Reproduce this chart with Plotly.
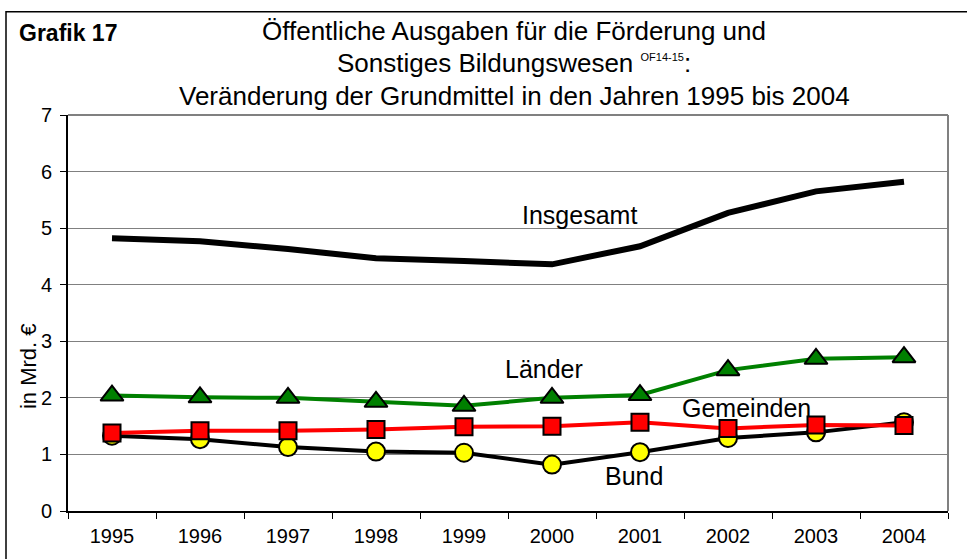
import plotly.graph_objects as go

years = ["1995", "1996", "1997", "1998", "1999", "2000", "2001", "2002", "2003", "2004"]
insgesamt = [4.82, 4.77, 4.63, 4.47, 4.42, 4.36, 4.68, 5.27, 5.65, 5.82]
laender = [2.04, 2.01, 2.00, 1.93, 1.86, 2.00, 2.05, 2.49, 2.69, 2.72]
gemeinden = [1.38, 1.42, 1.42, 1.44, 1.49, 1.50, 1.57, 1.46, 1.52, 1.51]
bund = [1.33, 1.27, 1.13, 1.05, 1.03, 0.82, 1.04, 1.29, 1.39, 1.57]
y_ticks = [0, 1, 2, 3, 4, 5, 6, 7]

FONT = "Liberation Sans, Arial, sans-serif"

fig = go.Figure()
fig.add_trace(go.Scatter(x=years, y=insgesamt, mode="lines", name="Insgesamt",
                         line=dict(color="black", width=6)))
fig.add_trace(go.Scatter(x=years, y=bund, mode="lines+markers", name="Bund",
                         line=dict(color="black", width=4),
                         marker=dict(symbol="circle", size=18, color="#ffff00",
                                     line=dict(color="black", width=2))))
fig.add_trace(go.Scatter(x=years, y=laender, mode="lines+markers", name="Länder",
                         line=dict(color="#008000", width=4),
                         marker=dict(symbol="triangle-up", size=20, color="#008000",
                                     line=dict(color="black", width=2))))
fig.add_trace(go.Scatter(x=years, y=gemeinden, mode="lines+markers", name="Gemeinden",
                         line=dict(color="#ff0000", width=4),
                         marker=dict(symbol="square", size=17, color="#ff0000",
                                     line=dict(color="black", width=2))))

L, R, T, B = 68, 19, 115, 45
W, H = 967, 559
pw, ph = W - L - R, H - T - B

def px_x(x):
    return (x - L) / pw

def px_y(y):
    return (H - B - y) / ph

fig.update_layout(
    width=W, height=H,
    margin=dict(l=L, r=R, t=T, b=B),
    paper_bgcolor="white", plot_bgcolor="white",
    showlegend=False,
    font=dict(family=FONT, color="black", size=16),
    xaxis=dict(type="category", range=[-0.5, 9.5], showgrid=False, ticks="outside",
               ticklen=6, tickson="boundaries", tickcolor="black", showline=True,
               linecolor="black", linewidth=2, mirror=False, ticklabelstandoff=6,
               tickfont=dict(size=20), zeroline=False),
    yaxis=dict(range=[0, 7], tickvals=y_ticks, showgrid=True, gridcolor="#808080",
               gridwidth=1, ticks="outside", ticklen=6, tickcolor="black",
               showline=True, linecolor="black", linewidth=2, ticklabelstandoff=4,
               tickfont=dict(size=20), zeroline=False),
)

# plot-area border on top and right (gray)
fig.add_shape(type="line", xref="paper", yref="paper", x0=0, x1=1, y0=1, y1=1,
              line=dict(color="#808080", width=2))
fig.add_shape(type="line", xref="paper", yref="paper", x0=1, x1=1, y0=0, y1=1,
              line=dict(color="#808080", width=2))
# outer frame (runs off the right and bottom edges)
fig.add_shape(type="rect", xref="paper", yref="paper",
              x0=px_x(6), x1=px_x(1000), y0=px_y(600), y1=px_y(11),
              line=dict(color="black", width=1.5), layer="below")

annots = [
    dict(text="<b>Grafik 17</b>", x=px_x(17), y=px_y(32), xanchor="left", size=23),
    dict(text="Öffentliche Ausgaben für die Förderung und", x=px_x(514), y=px_y(30), xanchor="center", size=26),
    dict(text="Sonstiges Bildungswesen <sup><span style='font-size:11px'>OF14-15</span></sup>:",
         x=px_x(514), y=px_y(63), xanchor="center", size=26),
    dict(text="Veränderung der Grundmittel in den Jahren 1995 bis 2004", x=px_x(514), y=px_y(96), xanchor="center", size=26),
    dict(text="Insgesamt", x=px_x(579), y=px_y(216), xanchor="center", size=25),
    dict(text="Länder", x=px_x(544), y=px_y(371), xanchor="center", size=25),
    dict(text="Gemeinden", x=px_x(746), y=px_y(410), xanchor="center", size=25),
    dict(text="Bund", x=px_x(634), y=px_y(479), xanchor="center", size=25),
]
for a in annots:
    fig.add_annotation(text=a["text"], x=a["x"], y=a["y"], xref="paper", yref="paper",
                       xanchor=a["xanchor"], yanchor="middle", showarrow=False,
                       font=dict(size=a["size"], family=FONT, color="black"))

fig.add_annotation(text="in Mrd. €", x=px_x(28), y=px_y(368), xref="paper", yref="paper",
                   textangle=-90, showarrow=False, xanchor="center", yanchor="middle",
                   font=dict(size=22, family=FONT, color="black"))

fig.write_html("out.html", config={"displayModeBar": False},
               post_script="document.body.style.margin='0';")
